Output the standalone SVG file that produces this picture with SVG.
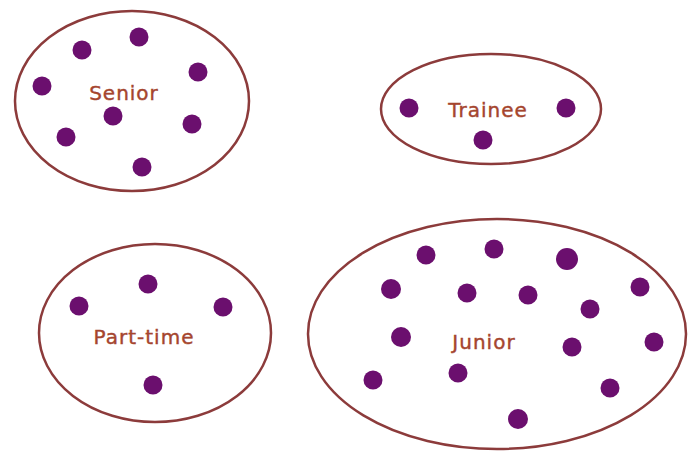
<svg xmlns="http://www.w3.org/2000/svg" width="688" height="454" viewBox="0 0 688 454">
<style>
.grp{fill:none;stroke:#8c3b3b;stroke-width:2.5}
.dot{fill:#6b0f6e}
.lbl{font-family:"DejaVu Sans","Liberation Sans",sans-serif;font-size:20px;fill:#a5452e;stroke:#a5452e;stroke-width:0.4;text-anchor:middle;letter-spacing:1px}
</style>
<rect width="688" height="454" fill="#ffffff"/>
<g id="senior">
<ellipse class="grp" cx="132" cy="101" rx="117" ry="90"/>
<text class="lbl" x="124" y="100">Senior</text>
<circle class="dot" cx="82" cy="50" r="9.5"/>
<circle class="dot" cx="139" cy="37" r="9.5"/>
<circle class="dot" cx="198" cy="72" r="9.5"/>
<circle class="dot" cx="42" cy="86" r="9.5"/>
<circle class="dot" cx="113" cy="116" r="9.5"/>
<circle class="dot" cx="192" cy="124" r="9.5"/>
<circle class="dot" cx="66" cy="137" r="9.5"/>
<circle class="dot" cx="142" cy="167" r="9.5"/>
</g>
<g id="trainee">
<ellipse class="grp" cx="491" cy="109" rx="110" ry="55"/>
<text class="lbl" x="488" y="117">Trainee</text>
<circle class="dot" cx="409" cy="108" r="9.5"/>
<circle class="dot" cx="566" cy="108" r="9.5"/>
<circle class="dot" cx="483" cy="140" r="9.5"/>
</g>
<g id="parttime">
<ellipse class="grp" cx="155" cy="333" rx="116" ry="89"/>
<text class="lbl" x="144" y="344">Part-time</text>
<circle class="dot" cx="148" cy="284" r="9.5"/>
<circle class="dot" cx="79" cy="306" r="9.5"/>
<circle class="dot" cx="223" cy="307" r="9.5"/>
<circle class="dot" cx="153" cy="385" r="9.5"/>
</g>
<g id="junior">
<ellipse class="grp" cx="497" cy="334" rx="189" ry="115"/>
<text class="lbl" x="484" y="349">Junior</text>
<circle class="dot" cx="426" cy="255" r="9.5"/>
<circle class="dot" cx="494" cy="249" r="9.5"/>
<circle class="dot" cx="567" cy="259" r="11"/>
<circle class="dot" cx="391" cy="289" r="10"/>
<circle class="dot" cx="467" cy="293" r="9.5"/>
<circle class="dot" cx="528" cy="295" r="9.5"/>
<circle class="dot" cx="640" cy="287" r="9.5"/>
<circle class="dot" cx="590" cy="309" r="9.5"/>
<circle class="dot" cx="401" cy="337" r="10"/>
<circle class="dot" cx="654" cy="342" r="9.5"/>
<circle class="dot" cx="572" cy="347" r="9.5"/>
<circle class="dot" cx="458" cy="373" r="9.5"/>
<circle class="dot" cx="373" cy="380" r="9.5"/>
<circle class="dot" cx="610" cy="388" r="9.5"/>
<circle class="dot" cx="518" cy="419" r="10"/>
</g>
</svg>
